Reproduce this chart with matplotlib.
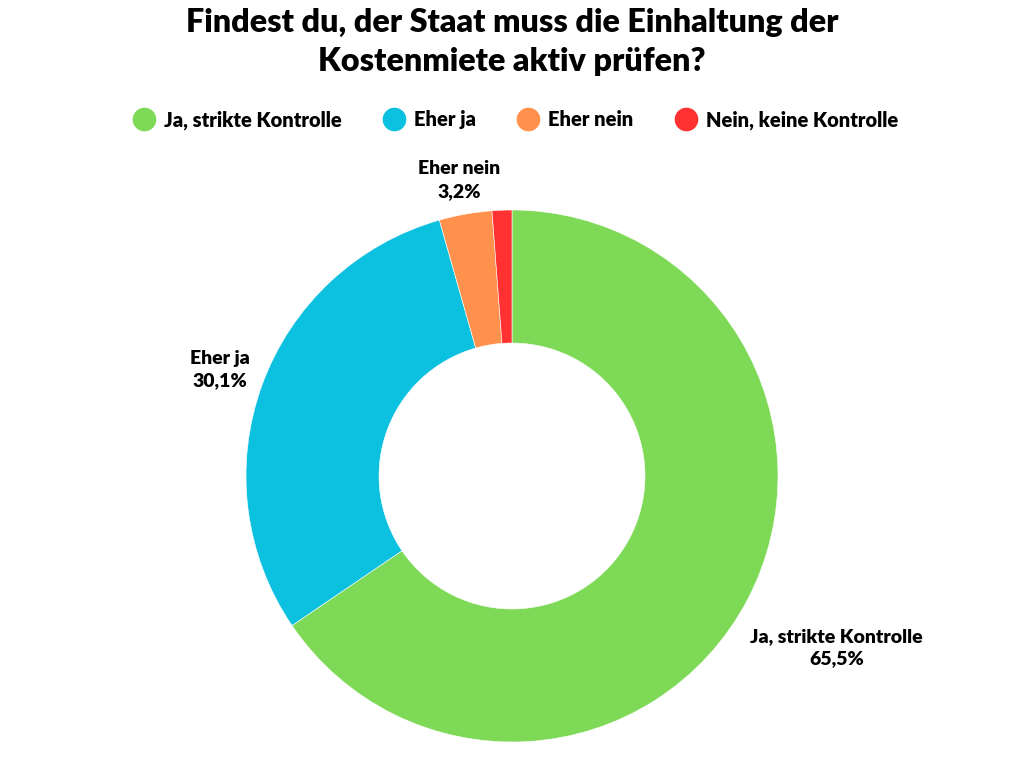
import numpy as np
import matplotlib.pyplot as plt
from matplotlib.lines import Line2D

plt.rcParams['font.family'] = ['Lato', 'DejaVu Sans']

categories = ['Ja, strikte Kontrolle', 'Eher ja', 'Eher nein', 'Nein, keine Kontrolle']
values = [65.5, 30.1, 3.2, 1.2]
value_labels = ['65,5%', '30,1%', '3,2%', '']
colors = ['#7ED957', '#0CC0DF', '#FF914D', '#FF3131']
label_dist = [1.38, 1.17, 1.13, 1.13]

fig = plt.figure(figsize=(10.24, 7.68), dpi=100)
ax = fig.add_axes([246 / 1024, 1 - 742 / 768, 532 / 1024, 532 / 768])

wedges, _ = ax.pie(values, colors=colors, startangle=90, counterclock=False,
                   radius=1, wedgeprops=dict(width=0.5, edgecolor='white', linewidth=0.4))
ax.set_xlim(-1, 1)
ax.set_ylim(-1, 1)
ax.set_aspect('equal')
ax.axis('off')

# labels outside the ring
total = sum(values)
start = 90.0
for v, cat, vl, d in zip(values, categories, value_labels, label_dist):
    mid = start - 360 * v / total / 2
    start -= 360 * v / total
    if not vl:
        continue
    a = np.deg2rad(mid)
    ax.text(d * np.cos(a), d * np.sin(a), f'{cat}\n{vl}', ha='center', va='center',
            fontsize=14, fontweight='heavy', linespacing=1.4, clip_on=False)

fig.text(0.5, 1 - 42 / 768, 'Findest du, der Staat muss die Einhaltung der\nKostenmiete aktiv prüfen?',
         ha='center', va='center', fontsize=23.2, fontweight='heavy', linespacing=1.4)

handles = [Line2D([], [], marker='o', linestyle='', markersize=16, markerfacecolor=c,
                  markeredgecolor=c) for c in colors]
fig.legend(handles, categories, loc='center', bbox_to_anchor=(0.503, 1 - 120 / 768), ncol=4,
           frameon=False, prop=dict(size=14.5, weight='heavy'), handletextpad=0.4,
           columnspacing=2.0, handlelength=1.2)

fig.savefig('out.png', dpi=100)
